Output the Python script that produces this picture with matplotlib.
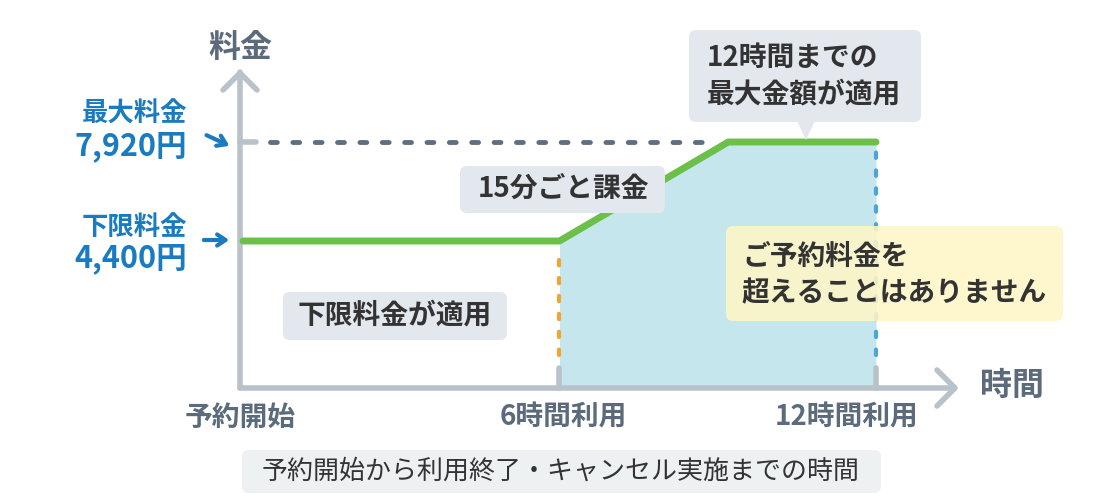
import matplotlib.pyplot as plt
from matplotlib.patches import FancyBboxPatch, Polygon

plt.rcParams['font.family'] = ['Noto Sans CJK JP', 'DejaVu Sans']

# chart data
hours = [0, 6, 9.2, 12]
fee = [4400, 4400, 7920, 7920]
min_fee = 4400
max_fee = 7920
tick_hours = [0, 6, 12]
tick_labels = ['予約開始', '6時間利用', '12時間利用']
fee_names = ['最大料金', '下限料金']
fee_texts = ['7,920円', '4,400円']

GRAY = '#b9c2ca'
LABEL = '#5b6b7b'
BLUE = '#1b7bc0'
GREEN = '#6cc04a'
DARK = '#333333'

fig = plt.figure(figsize=(11, 5), dpi=100)

# overlay in pixel coords for boxes / texts
deco = fig.add_axes([0, 0, 1, 1])
deco.set_xlim(0, 1100)
deco.set_ylim(500, 0)
deco.axis('off')

# data axes: 0h at px 243, 12h at px 876 ; 4400 at px 241, 7920 at px 142
ax = fig.add_axes([0, 0, 1, 1])
x0, x12 = 243, 876
px_h = (x12 - x0) / 12
y_lo, y_hi = 241, 142
yen_px = (max_fee - min_fee) / (y_lo - y_hi)
ax.set_xlim(-x0 / px_h, (1100 - x0) / px_h)
ax.set_ylim(min_fee - (500 - y_lo) * yen_px, max_fee + y_hi * yen_px)
ax.axis('off')
ax.patch.set_alpha(0)
axis_y = min_fee - (388 - y_lo) * yen_px   # x axis level in yen
axis_x = (240 - x0) / px_h

# axes lines
lw_ax = 4
ax.plot([axis_x, axis_x], [axis_y, max_fee + 70 * yen_px], color=GRAY, lw=lw_ax, solid_capstyle='round', zorder=1)
ax.plot([axis_x, (950 - x0) / px_h], [axis_y, axis_y], color=GRAY, lw=lw_ax, solid_capstyle='round', zorder=6)
deco.plot([223, 240, 257], [90, 73, 90], color=GRAY, lw=lw_ax, solid_capstyle='round', solid_joinstyle='round')
deco.plot([937, 955, 937], [370, 388, 406], color=GRAY, lw=lw_ax, solid_capstyle='round', solid_joinstyle='round')

# y tick stubs
for v in [max_fee, min_fee]:
    ax.plot([axis_x, axis_x + 16 / px_h], [v, v], color=GRAY, lw=lw_ax, solid_capstyle='round', zorder=1)

# fill for used time
ax.fill_between(hours[1:], fee[1:], axis_y, color='#c6e6ee', lw=0, zorder=2)

# x tick stubs
for h in tick_hours[1:]:
    ax.plot([h, h], [axis_y, axis_y + 20 * yen_px], color=GRAY, lw=lw_ax, solid_capstyle='round', zorder=6)

# dashed max line
ax.plot([axis_x + 30 / px_h, 8.9], [max_fee, max_fee], color='#5f6f7f', lw=3.5,
        dashes=(1.4, 3.2), dash_capstyle='round', zorder=3)
# dotted verticals
ax.plot([6, 6], [axis_y + 33 * yen_px, min_fee - 12 * yen_px], color='#f2a431', lw=3,
        dashes=(1.3, 3.0), dash_capstyle='round', zorder=3)
ax.plot([12, 12], [axis_y + 33 * yen_px, max_fee - 8 * yen_px], color='#4ba5da', lw=3,
        dashes=(1.3, 3.0), dash_capstyle='round', zorder=3)

# fee line
ax.plot(hours, fee, color=GREEN, lw=5, solid_capstyle='round', solid_joinstyle='round', zorder=4)


def box(x1, y1, x2, y2, color, alpha=1.0, z=5):
    p = FancyBboxPatch((x1, y1), x2 - x1, y2 - y1, boxstyle='round,pad=0,rounding_size=7',
                       fc=color, ec='none', alpha=alpha, zorder=z)
    deco.add_patch(p)


def label(x, y, s, size, color=DARK, weight='bold', **kw):
    deco.text(x, y, s, fontsize=size, fontweight=weight, color=color, zorder=10, **kw)


deco.set_zorder(3)
ax.set_zorder(2)

# callouts
box(689, 30, 921, 122, '#e2e8ee')
deco.add_patch(Polygon([[797, 121], [806, 140], [815, 121]], closed=True, fc='#e2e8ee', ec='none'))
label(707, 58, '12時間までの', 20, va='center')
label(707, 94, '最大金額が適用', 20, va='center')

box(460, 166, 665, 213, '#e2e8ee')
label(563, 189, '15分ごと課金', 20, ha='center', va='center')

box(283, 292, 507, 340, '#e2e8ee')
label(395, 316, '下限料金が適用', 20, ha='center', va='center')

box(726, 226, 1063, 321, '#fef5c6', alpha=0.88)
label(742, 257, 'ご予約料金を', 20, va='center')
label(742, 293, '超えることはありません', 20, va='center')

box(242, 450, 881, 493, '#eef1f1')
label(561, 471, '予約開始から利用終了・キャンセル実施までの時間', 18.7, weight='normal',
      ha='center', va='center')

# axis titles
label(240, 48, '料金', 23, color=LABEL, ha='center', va='center')
label(1012, 386, '時間', 23, color=LABEL, ha='center', va='center')

# x tick labels
label_x = [240, 563, 847]
for lx, t in zip(label_x, tick_labels):
    label(lx, 418, t, 20, color=LABEL, ha='center', va='center')

# y labels with arrows
name_off = [-28, -14]
val_off = [4, 17]
for i, (name, txt) in enumerate(zip(fee_names, fee_texts)):
    ypx = [y_hi, y_lo][i]
    label(187, ypx + name_off[i], name, 19, color=BLUE, ha='right', va='center')
    label(187, ypx + val_off[i], txt, 22, color=BLUE, ha='right', va='center')

deco.annotate('', xy=(232, 147), xytext=(204, 134),
              arrowprops=dict(arrowstyle='->,head_length=0.6,head_width=0.4', color=BLUE, lw=3))
deco.annotate('', xy=(232, 240), xytext=(201, 240),
              arrowprops=dict(arrowstyle='->,head_length=0.6,head_width=0.4', color=BLUE, lw=3))

fig.savefig('out.png', dpi=100)
